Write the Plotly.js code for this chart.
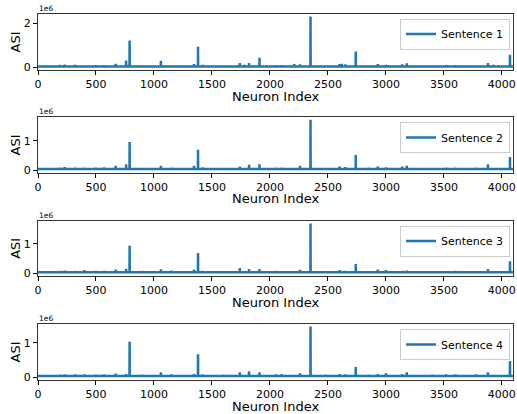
<!DOCTYPE html>
<html>
<head>
<meta charset="utf-8">
<script src="https://cdn.plot.ly/plotly-3.0.1.min.js"></script>
<style>html,body{margin:0;padding:0;background:#fff;}#chart{width:517px;height:414px;}</style>
</head>
<body>
<div id="chart"></div>
<script>
// ---- Data (ASI values, units of 1) ----
var numNeurons = 4096;
var baselineASI = 40000;
var sentenceNames = ["Sentence 1", "Sentence 2", "Sentence 3", "Sentence 4"];
var xTitle = "Neuron Index";
var yTitle = "ASI";

var s1Index = [60, 120, 190, 230, 320, 400, 500, 570, 670, 760, 790, 900, 1060, 1150, 1200, 1345, 1380, 1420, 1470, 1600, 1700, 1740, 1780, 1820, 1910, 2050, 2100, 2210, 2260, 2350, 2480, 2600, 2620, 2650, 2740, 2850, 2930, 3000, 3020, 3140, 3180, 3300, 3400, 3520, 3600, 3780, 3880, 3930, 4000, 4070];
var s1ASI   = [90000, 90000, 120000, 130000, 120000, 100000, 110000, 110000, 160000, 310000, 1220000, 90000, 300000, 100000, 100000, 150000, 930000, 120000, 100000, 90000, 100000, 200000, 120000, 200000, 440000, 110000, 110000, 150000, 140000, 2300000, 90000, 150000, 160000, 140000, 720000, 100000, 150000, 120000, 110000, 140000, 190000, 90000, 100000, 110000, 110000, 100000, 200000, 120000, 90000, 570000];

var s2Index = [60, 190, 230, 320, 400, 500, 570, 670, 760, 790, 900, 1060, 1150, 1345, 1380, 1420, 1600, 1740, 1820, 1910, 2050, 2100, 2260, 2350, 2480, 2600, 2650, 2740, 2850, 2930, 3000, 3140, 3180, 3400, 3520, 3600, 3780, 3880, 3930, 4070];
var s2ASI   = [80000, 90000, 110000, 90000, 90000, 90000, 100000, 150000, 200000, 960000, 80000, 150000, 90000, 150000, 700000, 100000, 80000, 120000, 180000, 200000, 90000, 90000, 150000, 1720000, 80000, 120000, 110000, 520000, 90000, 120000, 100000, 120000, 150000, 80000, 90000, 90000, 90000, 200000, 80000, 450000];

var s3Index = [60, 190, 230, 320, 400, 500, 570, 670, 760, 790, 900, 1060, 1150, 1345, 1380, 1420, 1600, 1740, 1820, 1910, 2050, 2260, 2350, 2480, 2600, 2650, 2740, 2850, 2930, 3000, 3140, 3180, 3400, 3520, 3600, 3780, 3880, 4070];
var s3ASI   = [80000, 90000, 100000, 90000, 110000, 90000, 90000, 130000, 160000, 930000, 90000, 140000, 100000, 130000, 690000, 90000, 80000, 180000, 150000, 150000, 90000, 120000, 1680000, 80000, 110000, 90000, 320000, 80000, 130000, 110000, 90000, 100000, 80000, 80000, 90000, 80000, 150000, 410000];

var s4Index = [60, 190, 230, 320, 400, 500, 570, 670, 760, 790, 900, 1060, 1150, 1345, 1380, 1420, 1600, 1740, 1820, 1910, 2050, 2100, 2260, 2350, 2480, 2600, 2650, 2740, 2850, 2930, 3000, 3140, 3180, 3400, 3520, 3600, 3780, 3880, 4070];
var s4ASI   = [70000, 80000, 90000, 90000, 90000, 80000, 90000, 110000, 100000, 1030000, 80000, 150000, 90000, 100000, 670000, 90000, 80000, 150000, 180000, 150000, 90000, 100000, 120000, 1470000, 80000, 100000, 90000, 300000, 80000, 100000, 120000, 100000, 150000, 80000, 90000, 90000, 90000, 150000, 470000];

var xTickVals = [0, 500, 1000, 1500, 2000, 2500, 3000, 3500, 4000];
var yTickVals = [[0, 2000000], [0, 1000000], [0, 1000000], [0, 1000000]];
var yTickText = [["0", "2"], ["0", "1"], ["0", "1"], ["0", "1"]];
var yRanges = [[-115000, 2415000], [-86000, 1806000], [-85000, 1772000], [-74000, 1540000]];

// ---- Build series ----
function buildSeries(idx, vals) {
  var x = [0], y = [baselineASI];
  for (var i = 0; i < idx.length; i++) {
    x.push(idx[i] - 1, idx[i], idx[i] + 1);
    y.push(baselineASI, vals[i], baselineASI);
  }
  x.push(numNeurons - 1); y.push(baselineASI);
  return {x: x, y: y};
}
var allIdx = [s1Index, s2Index, s3Index, s4Index];
var allVals = [s1ASI, s2ASI, s3ASI, s4ASI];

var W = 517, H = 414;
var M = {l: 38, r: 4, t: 14, b: 34};
var PW = W - M.l - M.r, PH = H - M.t - M.b;
// panel pixel boxes [top, bottom] in page px
var panels = [[14, 70], [117.3, 172.7], [220.7, 276], [324, 380]];
var legendTops = [18.5, 122, 225.5, 329];
var font = "DejaVu Sans, sans-serif";
var blue = "#1f77b4";
function fy(py) { return (H - M.b - py) / PH; }

var traces = [], layout = {
  width: W, height: H,
  margin: M,
  paper_bgcolor: "#fff", plot_bgcolor: "#fff",
  showlegend: true,
  font: {family: font, color: "#000", size: 11},
  annotations: []
};

for (var k = 0; k < 4; k++) {
  var s = buildSeries(allIdx[k], allVals[k]);
  var sfx = k === 0 ? "" : String(k + 1);
  traces.push({
    type: "scatter", mode: "lines",
    x: s.x, y: s.y,
    name: sentenceNames[k],
    xaxis: "x" + sfx, yaxis: "y" + sfx,
    legend: "legend" + sfx,
    line: {color: blue, width: 2.5},
    hoverinfo: "skip"
  });
  layout["xaxis" + sfx] = {
    domain: [0, 1],
    anchor: "y" + sfx,
    range: [0, numNeurons],
    tickvals: xTickVals,
    ticks: "outside", ticklen: 4, tickwidth: 1, tickcolor: "#000",
    ticklabelstandoff: 0, ticklabeloverflow: "allow",
    tickfont: {size: 11, family: font},
    showline: true, mirror: true, linecolor: "#333", linewidth: 1,
    showgrid: false, zeroline: false
  };
  layout["yaxis" + sfx] = {
    domain: [fy(panels[k][1]), fy(panels[k][0])],
    anchor: "x" + sfx,
    range: yRanges[k],
    tickvals: yTickVals[k], ticktext: yTickText[k],
    ticks: "outside", ticklen: 4, tickwidth: 1, tickcolor: "#000",
    tickfont: {size: 11, family: font},
    showline: true, mirror: true, linecolor: "#333", linewidth: 1,
    showgrid: false, zeroline: false,
    title: {text: yTitle, font: {size: 13, family: font}, standoff: 0}
  };
  layout["legend" + sfx] = {
    x: (510 - M.l) / PW, xanchor: "right",
    y: fy(legendTops[k]), yanchor: "top",
    bgcolor: "rgba(255,255,255,0.85)",
    bordercolor: "#cccccc", borderwidth: 1,
    font: {size: 11, family: font},
    itemwidth: 30, tracegroupgap: 0
  };
  // x-axis title (placed as annotation for exact spacing between stacked panels)
  layout.annotations.push({
    text: xTitle, xref: "paper", yref: "paper",
    x: 0.5, y: fy(panels[k][1] + 26),
    xanchor: "center", yanchor: "middle",
    showarrow: false, font: {size: 13, family: font}, borderpad: 0
  });
  // scale factor label
  layout.annotations.push({
    text: "1e6", xref: "paper", yref: "paper",
    x: 0, y: fy(panels[k][0]),
    xanchor: "left", yanchor: "bottom",
    showarrow: false, font: {size: 7.5, family: font}, borderpad: 0
  });
}

Plotly.newPlot("chart", traces, layout, {staticPlot: true, displayModeBar: false});
</script>
</body>
</html>
